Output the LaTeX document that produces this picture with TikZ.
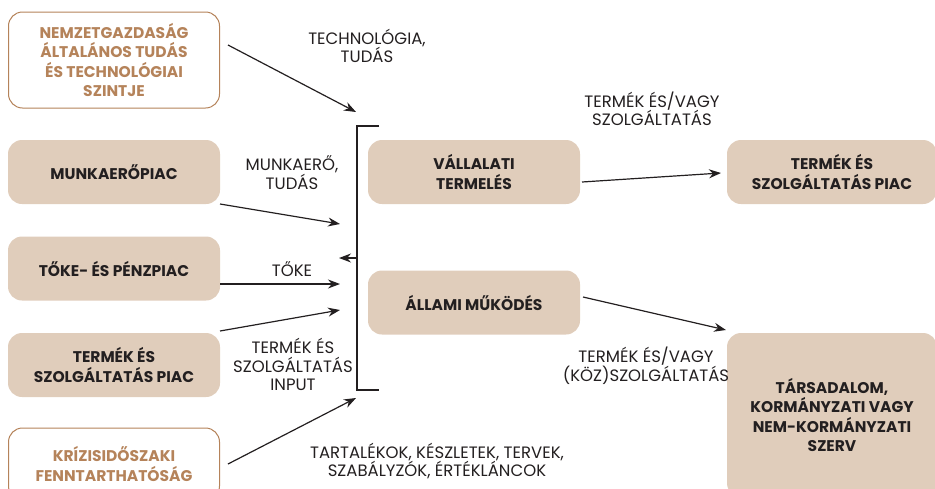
\documentclass[tikz,border=0pt]{standalone}
\usepackage{fontspec}
\setmainfont{Poppins}
\usetikzlibrary{positioning,arrows.meta}
\definecolor{boxfill}{HTML}{E0CDBB}
\definecolor{rimbrown}{HTML}{B5835A}
\definecolor{ink}{HTML}{231F20}

\begin{document}
\begin{tikzpicture}[x=1pt,y=-1pt,
    market/.style={rounded corners=14pt,fill=boxfill,text=ink,align=center,
      font=\bfseries\fontsize{15.5}{19.3}\selectfont,minimum width=212pt,minimum height=64pt,inner sep=0pt},
    outer/.style={rounded corners=14pt,draw=rimbrown,line width=1pt,fill=white,text=rimbrown,align=center,
      font=\bfseries\fontsize{15.5}{19.3}\selectfont,minimum width=211pt,inner sep=0pt},
    flow/.style={draw=ink,line width=1.2pt,-{Stealth[length=12pt,width=9pt]}},
    tag/.style={text=ink,align=center,font=\fontsize{16.5}{18.5}\selectfont}]
  \useasboundingbox (0,0) rectangle (935,488);

  % left column
  \node[outer,minimum height=96pt](nemz) at (114,60) {NEMZETGAZDAS\'AG\\\'ALTAL\'ANOS TUD\'AS\\\'ES TECHNOL\'OGIAI\\SZINTJE};
  \node[market](munka) at (114,172) {MUNKAER\H{O}PIAC};
  \node[market](toke) at (114,268.5) {T\H{O}KE- \'ES P\'ENZPIAC};
  \node[market](termin) at (114,365) {TERM\'EK \'ES\\SZOLG\'ALTAT\'AS PIAC};
  \node[outer,minimum height=72pt](kriz) at (114,464) {KR\'IZISID\H{O}SZAKI\\FENNTARTHAT\'OS\'AG};

  % middle
  \node[market](vall) at (474,172) {V\'ALLALATI\\TERMEL\'ES};
  \node[market](allami) at (474,302.5) {\'ALLAMI M\H{U}K\"OD\'ES};

  % right column
  \node[market,minimum width=210pt](termout) at (832,172) {TERM\'EK \'ES\\SZOLG\'ALTAT\'AS PIAC};
  \node[market,minimum width=210pt,minimum height=164pt](tars) at (832,415) {T\'ARSADALOM,\\KORM\'ANYZATI VAGY\\NEM-KORM\'ANYZATI\\SZERV};

  % bracket
  \coordinate (brtop) at (379,126);
  \coordinate (brbot) at (379,390);
  \coordinate (brmid) at (357,258);
  \draw[ink,line width=1.2pt] (brtop) -| (brbot -| brmid) -- (brbot);

  % inputs
  \coordinate (s1) at (228,45);   \coordinate (e1) at (356,112);
  \coordinate (s2) at (220,204);  \coordinate (e2) at (340,224);
  \coordinate (s3) at (220,284);  \coordinate (e3) at (340,284);
  \coordinate (s4) at (220,331);  \coordinate (e4) at (340,310);
  \coordinate (s5) at (228,464);  \coordinate (e5) at (356,398);
  \coordinate (back) at (339,258);
  \draw[flow] (s1) -- (e1);
  \draw[flow] (s2) -- (e2);
  \draw[flow] (s3) -- (e3);
  \draw[flow] (s4) -- (e4);
  \draw[flow] (s5) -- (e5);
  \draw[flow] (brmid) -- (back);

  % outputs
  \coordinate (s6) at (582,182);  \coordinate (e6) at (721,173);
  \coordinate (s7) at (583,297);  \coordinate (e7) at (726,330);
  \draw[flow] (s6) -- (e6);
  \draw[flow] (s7) -- (e7);

  % labels
  \node[tag](ltech) at (367,46) {TECHNOL\'OGIA,\\TUD\'AS};
  \node[tag](lmunka) at (292,172.5) {MUNKAER\H{O},\\TUD\'AS};
  \node[tag](ltoke) at (292,269) {T\H{O}KE};
  \node[tag](linput) at (293,364.5) {TERM\'EK \'ES\\SZOLG\'ALTAT\'AS\\INPUT};
  \node[tag](ltart) at (437,461) {TARTAL\'EKOK, K\'ESZLETEK, TERVEK,\\SZAB\'ALYZ\'OK, \'ERT\'EKL\'ANCOK};
  \node[tag](lout1) at (652,109) {TERM\'EK \'ES/VAGY\\SZOLG\'ALTAT\'AS};
  \node[tag](lout2) at (646,366) {TERM\'EK \'ES/VAGY\\(K\"OZ)SZOLG\'ALTAT\'AS};
\end{tikzpicture}
\end{document}
